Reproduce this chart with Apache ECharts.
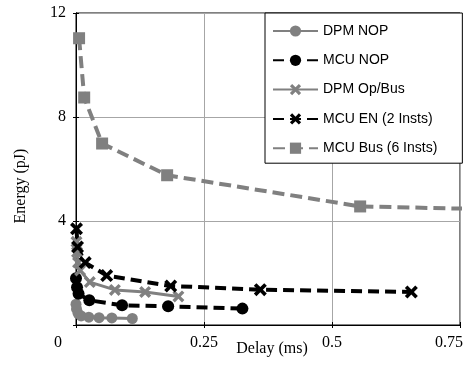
<!DOCTYPE html>
<html><head><meta charset="utf-8">
<script src="https://cdn.jsdelivr.net/npm/echarts@6/dist/echarts.min.js"></script>
<style>html,body{margin:0;padding:0;background:#fff}#c{width:472px;height:365px}</style>
</head><body><div id="c"></div>
<script>
const seriesNames = ['DPM NOP', 'MCU NOP', 'DPM Op/Bus', 'MCU EN (2 Insts)', 'MCU Bus (6 Insts)'];
const dpmNopX = [0.0, 0.001, 0.004, 0.010, 0.025, 0.045, 0.070, 0.110];
const dpmNopY = [0.80, 0.62, 0.45, 0.35, 0.30, 0.28, 0.27, 0.25];
const mcuNopX = [0.0, 0.002, 0.005, 0.026, 0.090, 0.180, 0.325];
const mcuNopY = [1.80, 1.45, 1.20, 0.95, 0.76, 0.72, 0.63];
const dpmOpX = [0.001, 0.002, 0.004, 0.008, 0.027, 0.076, 0.135, 0.200];
const dpmOpY = [3.20, 2.80, 2.40, 2.10, 1.65, 1.35, 1.27, 1.10];
const mcuEnX = [0.001, 0.003, 0.018, 0.060, 0.185, 0.360, 0.655];
const mcuEnY = [3.70, 3.00, 2.40, 1.90, 1.50, 1.36, 1.27];
const mcuBusX = [0.006, 0.016, 0.051, 0.178, 0.555, 1.100];
const mcuBusY = [11.03, 8.75, 6.98, 5.76, 4.56, 4.33];
const xTicks = [0, 0.25, 0.5, 0.75];
const yTicks = [0, 4, 8, 12];

const GRAY = '#808080';
const XSYM = 'path://M2,0 L5,3 L8,0 L10,2 L7,5 L10,8 L8,10 L5,7 L2,10 L0,8 L3,5 L0,2 Z';
function pts(xs, ys) { return xs.map((x, i) => [x, ys[i]]); }

const chart = echarts.init(document.getElementById('c'), null, {renderer: 'canvas'});
const serif = 'Liberation Serif';
const sans = 'Liberation Sans';
chart.setOption({
  animation: false,
  backgroundColor: '#fff',
  grid: {left: 76, right: 12, top: 13, bottom: 40, containLabel: false, outerBoundsMode: 'none',
         show: true, borderColor: '#000', borderWidth: 1, backgroundColor: 'transparent'},
  legend: {
    orient: 'vertical', left: 265, top: 13,
    padding: [11, 25, 8, 7], itemWidth: 45, itemHeight: 14, itemGap: 15.3,
    backgroundColor: '#fff', borderColor: '#000', borderWidth: 1,
    textStyle: {fontFamily: sans, fontSize: 14, color: '#000', lineHeight: 14},
    data: seriesNames
  },
  xAxis: [{
    type: 'value', min: xTicks[0], max: xTicks[xTicks.length - 1], interval: 0.25,
    name: 'Delay (ms)', nameLocation: 'middle', nameGap: 16, nameMoveOverlap: false,
    nameTextStyle: {fontFamily: serif, fontSize: 16, color: '#000', padding: [0, 0, 0, 8]},
    axisLine: {show: true, lineStyle: {color: '#000'}},
    axisTick: {show: true, inside: true, length: 3, lineStyle: {color: '#000'}},
    axisLabel: {
      margin: 10, fontFamily: serif, fontSize: 16, color: '#000',
      formatter: v => v === 0 ? '{a|0}' : (v === 0.75 ? '{b|0.75}' : String(v)),
      rich: {a: {fontFamily: serif, fontSize: 16, color: '#000', padding: [0, 36, 0, 0]},
             b: {fontFamily: serif, fontSize: 16, color: '#000', padding: [0, 22, 0, 0]}}
    },
    splitLine: {show: true, lineStyle: {color: '#a6a6a6', width: 1}}
  }, {
    type: 'value', position: 'top', min: xTicks[0], max: xTicks[xTicks.length - 1], interval: 0.25,
    axisLine: {show: true, lineStyle: {color: '#000'}},
    axisTick: {show: true, inside: true, length: 3, lineStyle: {color: '#000'}},
    axisLabel: {show: false}, splitLine: {show: false}
  }],
  yAxis: [{
    type: 'value', min: yTicks[0], max: yTicks[yTicks.length - 1], interval: 4,
    name: 'Energy (pJ)', nameLocation: 'middle', nameGap: 47, nameRotate: 90, nameMoveOverlap: false,
    nameTextStyle: {fontFamily: serif, fontSize: 16, color: '#000', padding: [0, 34, 0, 0]},
    axisLine: {show: true, lineStyle: {color: '#000'}},
    axisTick: {show: true, inside: true, length: 3, lineStyle: {color: '#000'}},
    axisLabel: {margin: 10, fontFamily: serif, fontSize: 16, color: '#000',
      formatter: v => v === 0 ? '' : String(v)},
    splitLine: {show: true, lineStyle: {color: '#a6a6a6', width: 1}}
  }, {
    type: 'value', position: 'right', min: yTicks[0], max: yTicks[yTicks.length - 1], interval: 4,
    axisLine: {show: true, lineStyle: {color: '#000'}},
    axisTick: {show: true, inside: true, length: 3, lineStyle: {color: '#000'}},
    axisLabel: {show: false}, splitLine: {show: false}
  }],
  series: [
    {name: seriesNames[0], type: 'line', data: pts(dpmNopX, dpmNopY), symbol: 'circle', symbolSize: 11,
     lineStyle: {color: GRAY, width: 3}, itemStyle: {color: GRAY}},
    {name: seriesNames[1], type: 'line', data: pts(mcuNopX, mcuNopY), symbol: 'circle', symbolSize: 12,
     lineStyle: {color: '#000', width: 4, type: [11, 6]}, itemStyle: {color: '#000'}},
    {name: seriesNames[2], type: 'line', data: pts(dpmOpX, dpmOpY), symbol: XSYM, symbolSize: 12,
     lineStyle: {color: GRAY, width: 3}, itemStyle: {color: GRAY}},
    {name: seriesNames[3], type: 'line', data: pts(mcuEnX, mcuEnY), symbol: XSYM, symbolSize: 13,
     lineStyle: {color: '#000', width: 4, type: [11, 6]}, itemStyle: {color: '#000'}},
    {name: seriesNames[4], type: 'line', data: pts(mcuBusX, mcuBusY), symbol: 'rect', symbolSize: 12,
     lineStyle: {color: GRAY, width: 4, type: [12, 6]}, itemStyle: {color: GRAY}, clip: true}
  ]
});
</script></body></html>
